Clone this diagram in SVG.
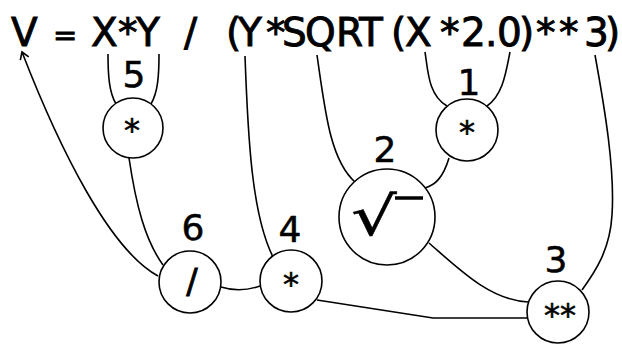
<svg xmlns="http://www.w3.org/2000/svg" width="622" height="344" viewBox="0 0 622 344">
<style>
.eq{font-family:"DejaVu Sans","Liberation Sans",sans-serif;font-size:39px;fill:#000;stroke:#000;stroke-width:0.9}
.lbl{font-family:"DejaVu Sans","Liberation Sans",sans-serif;font-size:36px;fill:#000;text-anchor:middle;stroke:#000;stroke-width:0.5}
.op{font-family:"DejaVu Sans","Liberation Sans",sans-serif;font-size:32px;fill:#000;text-anchor:middle;stroke:#000;stroke-width:0.6}
.node circle{fill:#fff;stroke:#000;stroke-width:1.6}
#connectors path,#connectors polyline{fill:none;stroke:#000;stroke-width:1.6}
</style>
<defs>
<marker id="arr" markerUnits="userSpaceOnUse" markerWidth="14" markerHeight="14" refX="0" refY="0" viewBox="-10 -7 12 14" orient="auto">
<path d="M-7,-4.5 L0,0 L-7,4.5" fill="none" stroke="#000" stroke-width="1.6"/>
</marker>
</defs>
<rect width="622" height="344" fill="#fff"/>
<text class="eq" y="46"><tspan x="11 40">V </tspan><tspan x="53" y="45" font-size="29">=</tspan><tspan y="46" x="80 91 118 136 165 184 210 226 238 266 282 305 336 359 391 405 440 461 485 497 519 536 559 584 605"> X*Y / (Y*SQRT(X*2.0)**3)</tspan></text>
<g id="connectors">
<path d="M108,54 C108,75 109,92 116,104"/>
<path d="M159,54 C159,75 158,92 151,104"/>
<path d="M129,158 C136,205 145,240 163,265"/>
<path d="M158,276 C110,250 60,150 22,52" marker-end="url(#arr)"/>
<path d="M221,287 Q240,293 260,286"/>
<path d="M245,56 C248,140 252,215 273,257"/>
<polyline points="317,300 433,318 527,318"/>
<path d="M317,55 C325,110 330,160 355,182"/>
<path d="M425,52 C428,70 428,95 447,106"/>
<path d="M510,52 C506,72 503,95 487,106"/>
<path d="M449,158 C443,178 435,185 425,188"/>
<path d="M429,243 C460,270 490,300 528,302"/>
<path d="M595,55 C605,110 615,170 612,215 C610,250 595,272 582,290"/>
</g>
<g id="node5" class="node"><circle cx="133" cy="128" r="30"/><text class="lbl" x="134" y="87">5</text><text class="op" x="132" y="141">*</text></g>
<g id="node1" class="node"><circle cx="467" cy="130" r="31"/><text class="lbl" x="469" y="95">1</text><text class="op" x="467" y="143">*</text></g>
<g id="node2" class="node"><circle cx="387" cy="217" r="48"/><text class="lbl" x="385" y="162">2</text><text transform="translate(374,235) scale(1.4,1.05)" x="0" y="0" font-family="DejaVu Sans,sans-serif" font-size="51" text-anchor="middle" stroke="#000" stroke-width="0.5">√</text><line x1="395" y1="198" x2="423" y2="198" stroke="#000" stroke-width="3.5"/></g>
<g id="node6" class="node"><circle cx="190" cy="282" r="31"/><text class="lbl" x="193" y="240">6</text><text x="192" y="293" font-family="DejaVu Sans,sans-serif" font-size="34" text-anchor="middle" stroke="#000" stroke-width="0.8">/</text></g>
<g id="node4" class="node"><circle cx="291" cy="281" r="31"/><text class="lbl" x="290" y="242">4</text><text class="op" x="291" y="295">*</text></g>
<g id="node3" class="node"><circle cx="558" cy="312" r="31"/><text class="lbl" x="556" y="272">3</text><text class="op" x="560" y="326">**</text></g>
</svg>
